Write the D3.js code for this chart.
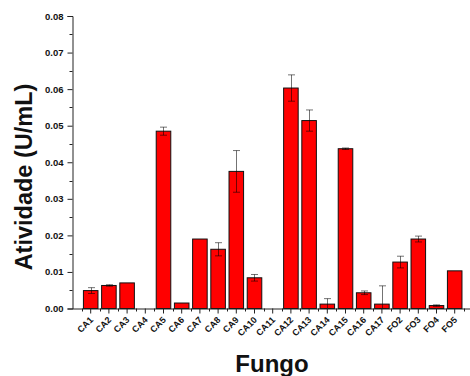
<!DOCTYPE html>
<html>
<head>
<meta charset="utf-8">
<script src="https://cdn.jsdelivr.net/npm/d3@7"></script>
<style>
  body { margin: 0; background: #fff; }
  svg { display: block; font-family: "Liberation Sans", Arial, sans-serif; }
</style>
</head>
<body>
<div id="chart"></div>
<script>
const fungos = ["CA1", "CA2", "CA3", "CA4", "CA5", "CA6", "CA7", "CA8", "CA9", "CA10", "CA11",
  "CA12", "CA13", "CA14", "CA15", "CA16", "CA17", "FO2", "FO3", "FO4", "FO5"];
const atividade = [0.0049, 0.0063, 0.0070, 0, 0.0485, 0.0015, 0.0190, 0.0162, 0.0375, 0.0084, 0,
  0.0603, 0.0514, 0.0012, 0.0437, 0.0043, 0.0012, 0.0127, 0.0190, 0.0008, 0.0103];
const erro = [0.0008, 0.0002, 0, 0, 0.0011, 0, 0, 0.0018, 0.0057, 0.0009, 0,
  0.0036, 0.0029, 0.0015, 0.0002, 0.0005, 0.0050, 0.0016, 0.0008, 0.0002, 0];
const yTicks = [0, 0.01, 0.02, 0.03, 0.04, 0.05, 0.06, 0.07, 0.08];

const width = 470, height = 376;
const x0 = 72.5, yBase = 308.5;

const svg = d3.select("#chart").append("svg")
  .attr("width", width)
  .attr("height", height);

const x = d3.scaleBand()
  .domain(fungos)
  .range([x0 + 9.1, x0 + 9.1 + 21 * 18.2])
  .paddingInner(0.2)
  .paddingOuter(0.1);

const y = d3.scaleLinear()
  .domain([0, 0.08])
  .range([yBase, 16]);

const data = fungos.map((f, i) => ({ f, v: atividade[i], e: erro[i] }));

// bars
svg.append("g").selectAll("rect")
  .data(data.filter(d => d.v > 0))
  .enter()
  .append("rect")
  .attr("x", d => x(d.f))
  .attr("y", d => y(d.v))
  .attr("width", x.bandwidth())
  .attr("height", d => yBase - y(d.v))
  .attr("fill", "#ff0000")
  .attr("stroke", "#111")
  .attr("stroke-width", 1);

// error bars
const eg = svg.append("g")
  .attr("stroke", "#000")
  .attr("stroke-opacity", 0.55)
  .attr("stroke-width", 1)
  .attr("fill", "none");
data.filter(d => d.e > 0).forEach(d => {
  const cx = Math.round(x(d.f) + x.bandwidth() / 2) + 0.5;
  const y1 = y(d.v + d.e), y2 = y(Math.max(d.v - d.e, 0));
  eg.append("line").attr("x1", cx).attr("x2", cx).attr("y1", y1).attr("y2", y2);
  eg.append("line").attr("x1", cx - 3.5).attr("x2", cx + 3.5).attr("y1", y1).attr("y2", y1);
  eg.append("line").attr("x1", cx - 3.5).attr("x2", cx + 3.5).attr("y1", y2).attr("y2", y2);
});

// y axis
const yAxis = d3.axisLeft(y)
  .tickValues(yTicks)
  .tickFormat(d3.format(".2f"))
  .tickSize(5)
  .tickPadding(4);
const gy = svg.append("g")
  .attr("transform", `translate(${x0},0)`)
  .call(yAxis);
gy.select(".domain").attr("stroke", "#222");
gy.selectAll(".tick line").attr("stroke", "#222");
gy.selectAll("text")
  .attr("font-size", 9.5)
  .attr("font-weight", "bold")
  .attr("fill", "#111");
gy.selectAll(".minor")
  .data(yTicks.slice(0, -1).map(t => t + 0.005))
  .enter()
  .append("line")
  .attr("x1", -3).attr("x2", 0)
  .attr("y1", d => Math.round(y(d)) + 0.5)
  .attr("y2", d => Math.round(y(d)) + 0.5)
  .attr("stroke", "#222");

// x axis
const xAxis = d3.axisBottom(x)
  .tickSize(5)
  .tickFormat("");
const gx = svg.append("g")
  .attr("transform", `translate(0,${yBase})`)
  .call(xAxis);
gx.select(".domain").attr("d", `M${x0},0.5H${width}`).attr("stroke", "#222");
gx.selectAll(".tick line").attr("stroke", "#222");
gx.selectAll(".tick text").remove();
gx.selectAll(".minor")
  .data(fungos.map(f => x(f) + x.bandwidth() / 2 - x.step() / 2).concat([x("FO5") + x.bandwidth() / 2 + x.step() / 2]))
  .enter()
  .append("line")
  .attr("x1", d => Math.round(d) + 0.5)
  .attr("x2", d => Math.round(d) + 0.5)
  .attr("y1", 0).attr("y2", 3)
  .attr("stroke", "#222");

// rotated category labels: the rotation sits on a wrapper group
svg.append("g").selectAll("g")
  .data(fungos)
  .enter()
  .append("g")
  .attr("transform", d => `translate(${x(d) + x.bandwidth() / 2 + 3},${yBase + 12}) rotate(-45)`)
  .append("text")
  .attr("font-size", 9)
  .attr("font-weight", "bold")
  .attr("fill", "#111")
  .attr("text-anchor", "end")
  .text(d => d);

// titles
svg.append("text")
  .attr("x", 272)
  .attr("y", 372)
  .attr("text-anchor", "middle")
  .attr("font-size", 24)
  .attr("font-weight", "bold")
  .attr("fill", "#111")
  .text("Fungo");

svg.append("text")
  .attr("transform", "translate(32,177) rotate(-90)")
  .attr("text-anchor", "middle")
  .attr("font-size", 23.5)
  .attr("font-weight", "bold")
  .attr("fill", "#111")
  .text("Atividade (U/mL)");
</script>
</body>
</html>
